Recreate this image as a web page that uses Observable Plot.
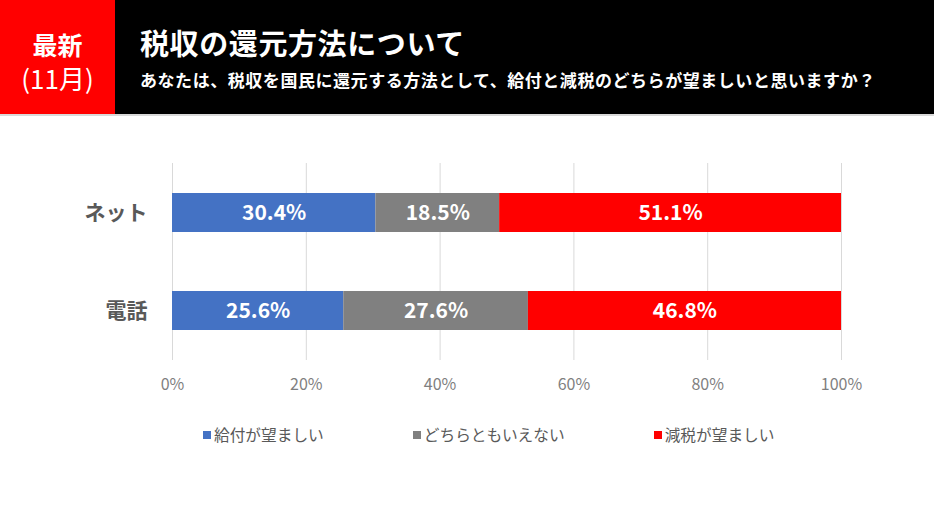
<!DOCTYPE html>
<html>
<head>
<meta charset="utf-8">
<script src="https://cdn.jsdelivr.net/npm/d3@7"></script>
<script src="https://cdn.jsdelivr.net/npm/@observablehq/plot@0.6"></script>
<style>
  html, body { margin: 0; padding: 0; background: #fff; }
  body { width: 934px; height: 525px; overflow: hidden; font-family: "Noto Sans CJK JP", "Noto Sans", sans-serif; }
  #header { position: relative; height: 114px; background: #000; border-bottom: 2px solid #d9d9d9; }
  #badge { position: absolute; left: 0; top: 0; width: 115px; height: 114px; background: #ff0000; color: #fff; text-align: center; }
  #badge .b1 { position: absolute; left: 0; width: 115px; top: 32px; font-size: 25px; font-weight: bold; line-height: 1; }
  #badge .b2 { position: absolute; left: 0; width: 115px; top: 65px; font-size: 26px; font-weight: normal; line-height: 1; }
  #title { position: absolute; left: 140px; top: 28px; color: #fff; font-size: 29px; font-weight: bold; line-height: 1; letter-spacing: 0.6px; }
  #subtitle { position: absolute; left: 140px; top: 71px; color: #fff; font-size: 17px; font-weight: bold; line-height: 1; letter-spacing: 0.55px; }
  #chart { height: 290px; }
  #legend { position: absolute; top: 424px; left: 203px; display: flex; gap: 89px; font-size: 15.7px; color: #595959; line-height: 22px; }
  #legend .item { display: flex; align-items: center; }
  #legend .sw { width: 8px; height: 8px; margin-right: 3px; }
</style>
</head>
<body>
<div id="header">
  <div id="badge"><div class="b1">最新</div><div class="b2">(11月)</div></div>
  <div id="title"></div>
  <div id="subtitle"></div>
</div>
<div id="chart"></div>
<div id="legend"></div>
<script>
const titleText = "税収の還元方法について";
const subtitleText = "あなたは、税収を国民に還元する方法として、給付と減税のどちらが望ましいと思いますか？";
const categories = ["ネット", "電話"];
const seriesNames = ["給付が望ましい", "どちらともいえない", "減税が望ましい"];
const seriesColors = ["#4472c4", "#808080", "#ff0000"];
const kyufu = [30.4, 25.6];
const dochira = [18.5, 27.6];
const genzei = [51.1, 46.8];
const xTicks = [0, 20, 40, 60, 80, 100];

document.getElementById("title").textContent = titleText;
document.getElementById("subtitle").textContent = subtitleText;

const seriesValues = [kyufu, dochira, genzei];
const data = [];
seriesNames.forEach((s, si) => {
  categories.forEach((c, ci) => {
    data.push({category: c, series: s, value: seriesValues[si][ci]});
  });
});

const chart = Plot.plot({
  width: 934,
  height: 290,
  marginLeft: 172,
  marginRight: 93,
  marginTop: 47,
  marginBottom: 46,
  style: {fontFamily: '"Noto Sans CJK JP", "Noto Sans", sans-serif', background: "transparent", overflow: "visible"},
  x: {domain: [0, 100]},
  y: {domain: categories, paddingInner: 0.6, paddingOuter: 0.3},
  color: {domain: seriesNames, range: seriesColors},
  marks: [
    Plot.gridX({ticks: xTicks, stroke: "#d9d9d9", strokeOpacity: 1, strokeWidth: 1}),
    Plot.barX(data, Plot.stackX({x: "value", y: "category", fill: "series", order: null})),
    Plot.textX(data, Plot.stackX({x: "value", y: "category", order: null, text: d => d.value.toFixed(1) + "%", fill: "#fff", fontSize: 21, fontWeight: "bold"})),
    Plot.axisX({ticks: xTicks, tickFormat: d => d + "%", tickSize: 0, tickPadding: 18, fontSize: 16, fill: "#7f7f7f", label: null}),
    Plot.axisY({tickSize: 0, tickPadding: 25, fontSize: 21, fontWeight: "bold", fill: "#595959", label: null})
  ]
});
document.getElementById("chart").appendChild(chart);

const legend = document.getElementById("legend");
seriesNames.forEach((s, i) => {
  const item = document.createElement("div");
  item.className = "item";
  const sw = document.createElement("span");
  sw.className = "sw";
  sw.style.background = seriesColors[i];
  const t = document.createElement("span");
  t.textContent = s;
  item.appendChild(sw);
  item.appendChild(t);
  legend.appendChild(item);
});
</script>
</body>
</html>
